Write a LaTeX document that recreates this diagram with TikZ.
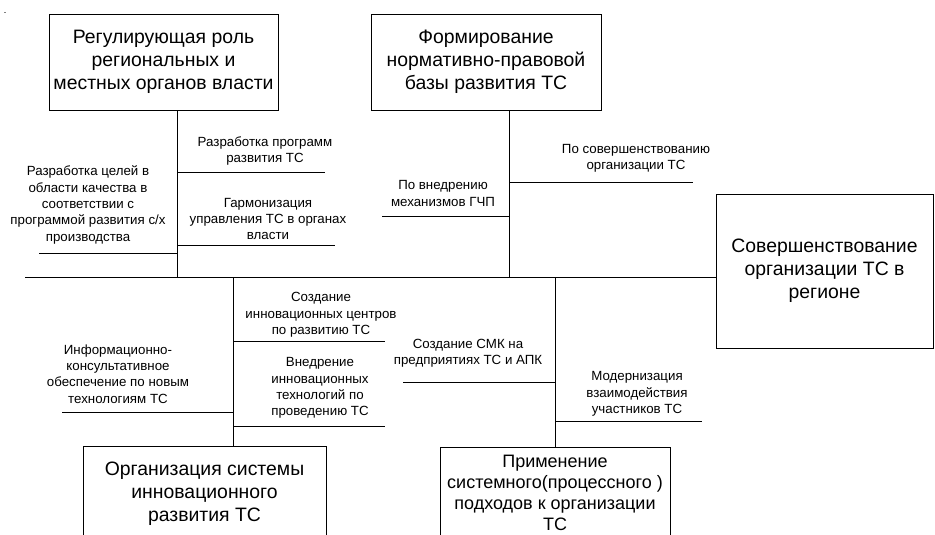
\documentclass[tikz,border=0pt]{standalone}
\usepackage{fontspec}
\setmainfont{Liberation Sans}
\begin{document}
\begin{tikzpicture}[x=1pt,y=-1pt,
  box/.style={draw=black, line width=0.9pt, inner sep=0pt, align=center,
    font=\fontsize{19.4}{23}\selectfont},
  lbl/.style={inner sep=0pt, align=center, font=\fontsize{13.3}{16.3}\selectfont},
  ln/.style={draw=black, line width=0.9pt}]
\useasboundingbox (0,0) rectangle (935,535);
\clip (0,0) rectangle (935,535);
\fill[gray] (4,12) rectangle (6,13.2);
% boxes
\node[box, minimum width=229, minimum height=96] (b1) at (163.5,62)
  {Регулирующая роль\\региональных и\\местных органов власти};
\node[box, minimum width=230, minimum height=96] (b2) at (486,62)
  {Формирование\\нормативно-правовой\\базы развития ТС};
\node[box, minimum width=217, minimum height=154] (b3) at (824.5,271)
  {Совершенствование\\организации ТС в\\регионе};
\node[box, minimum width=243, minimum height=96] (b4) at (204.5,494)
  {Организация системы\\инновационного\\развития ТС};
\node[box, minimum width=230, minimum height=92,
  font=\fontsize{18}{21}\selectfont] (b5) at (555,493)
  {Применение\\системного(процессного )\\подходов к организации\\ТС};
% junctions on the main line
\coordinate (mL) at (25,277);
\coordinate (j1) at (177,277);
\coordinate (j2) at (509,277);
\coordinate (j3) at (233,277);
\coordinate (j4) at (555,277);
\draw[ln] (mL) -- (mL -| b3.west);
\draw[ln] (b1.south -| j1) -- (j1);
\draw[ln] (b2.south -| j2) -- (j2);
\draw[ln] (j3) -- (b4.north -| j3);
\draw[ln] (j4) -- (b5.north);
% branch ends
\coordinate (e1) at (325,172);
\coordinate (e2) at (335,245);
\coordinate (e3) at (39,253);
\coordinate (e4) at (693,182);
\coordinate (e5) at (382,216);
\coordinate (e6) at (385,341);
\coordinate (e7) at (385,426);
\coordinate (e8) at (62,412);
\coordinate (e9) at (403,382);
\coordinate (e10) at (702,421);
\draw[ln] (e1 -| j1) -- (e1);
\draw[ln] (e2 -| j1) -- (e2);
\draw[ln] (e3) -- (e3 -| j1);
\draw[ln] (e4 -| j2) -- (e4);
\draw[ln] (e5) -- (e5 -| j2);
\draw[ln] (e6 -| j3) -- (e6);
\draw[ln] (e7 -| j3) -- (e7);
\draw[ln] (e8) -- (e8 -| j3);
\draw[ln] (e9) -- (e9 -| j4);
\draw[ln] (e10 -| j4) -- (e10);
% labels
\node[lbl] (t1) at (265,151) {Разработка программ\\развития ТС};
\node[lbl] (t2) at (268,219) {Гармонизация\\управления ТС в органах\\власти};
\node[lbl] (t3) at (88,205) {Разработка целей в\\области качества в\\соответствии с\\программой развития с/х\\производства};
\node[lbl] (t4) at (443,193.5) {По внедрению\\механизмов ГЧП};
\node[lbl] (t5) at (636,158.5) {По совершенствованию\\организации ТС};
\node[lbl] (t6) at (321,315) {Создание\\инновационных центров\\по развитию ТС};
\node[lbl] (t7) at (320,388) {Внедрение\\инновационных\\технологий по\\проведению ТС};
\node[lbl] (t8) at (118,374) {Информационно-\\консультативное\\обеспечение по новым\\технологиям ТС};
\node[lbl] (t9) at (468,353.5) {Создание СМК на\\предприятиях ТС и АПК};
\node[lbl] (t10) at (637,394) {Модернизация\\взаимодействия\\участников ТС};
\end{tikzpicture}
\end{document}
